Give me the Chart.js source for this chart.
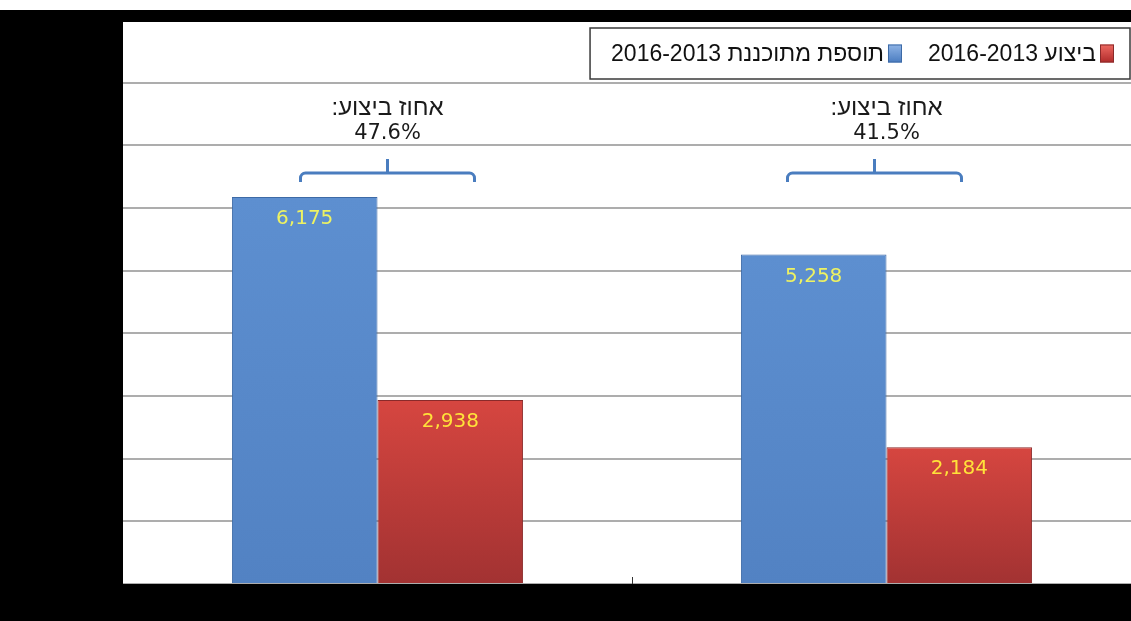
<!DOCTYPE html>
<html lang="he">
<head>
<meta charset="utf-8">
<title>תוספת מתוכננת וביצוע 2016-2013</title>
<script src="https://cdn.jsdelivr.net/npm/chart.js@4.4.1/dist/chart.umd.min.js"></script>
<style>
  html, body { margin: 0; padding: 0; }
  body { width: 1131px; height: 621px; background: #000; overflow: hidden; position: relative; }
  #topStrip { position: absolute; left: 0; top: 0; width: 1131px; height: 10px; background: #fff; }
  #frameTop { position: absolute; left: 0; top: 10px; width: 1131px; height: 12px; background: #000; z-index: 2; }
  #wrap { position: absolute; left: 123px; top: 20px; width: 1018px; height: 564px; background: #fff; }
</style>
</head>
<body>
<div id="topStrip"></div>
<div id="wrap"><canvas id="myChart"></canvas></div>
<div id="frameTop"></div>
<script>
// נתונים
const categories = ['', ''];
const seriesLabels = ['תוספת מתוכננת 2016-2013', 'ביצוע 2016-2013'];
const plannedAddition = [6175, 5258];
const executed = [2938, 2184];
const yMax = 9000;
const yStep = 1000;
const pctTitle = 'אחוז ביצוע:';

const NUM_FONT = "'DejaVu Sans', Tahoma, sans-serif";
const HEB_FONT = "'Liberation Sans', Arial, sans-serif";

// gradient per bar, from its top down to the zero line
function barFill(top, bottom) {
  return (c) => {
    const chart = c.chart;
    const y = chart.scales && chart.scales.y;
    if (!y || c.raw == null) return top;
    const y0 = y.getPixelForValue(0);
    const y1 = y.getPixelForValue(c.raw);
    if (!isFinite(y0) || !isFinite(y1) || y0 === y1) return top;
    const g = chart.ctx.createLinearGradient(0, y1, 0, y0);
    g.addColorStop(0, top);
    g.addColorStop(1, bottom);
    return g;
  };
}

// value written inside the top of each bar
const valueLabels = {
  id: 'valueLabels',
  afterDatasetsDraw(chart, args, opts) {
    const ctx = chart.ctx;
    ctx.save();
    ctx.font = '20px ' + NUM_FONT;
    ctx.textAlign = 'center';
    ctx.textBaseline = 'middle';
    chart.data.datasets.forEach((ds, di) => {
      chart.getDatasetMeta(di).data.forEach((bar, i) => {
        ctx.fillStyle = opts.colors[di];
        ctx.fillText(ds.data[i].toLocaleString('en-US'), bar.x, bar.y + 22);
      });
    });
    ctx.restore();
  }
};

// bracket over each pair with the execution rate
const rateBrackets = {
  id: 'rateBrackets',
  afterDatasetsDraw(chart, args, opts) {
    const ctx = chart.ctx;
    const x = chart.scales.x;
    const top = chart.chartArea.top;
    ctx.save();
    categories.forEach((c, i) => {
      const cx = x.getPixelForValue(i) + opts.braceShift[i];
      const l = cx - 87, r = cx + 87;
      const hy = top + 153, bot = top + 162, stub = top + 139;
      ctx.strokeStyle = '#4a7dbf';
      ctx.lineWidth = 3;
      ctx.beginPath();
      ctx.moveTo(l, bot);
      ctx.arcTo(l, hy, l + 8, hy, 5);
      ctx.lineTo(r - 8, hy);
      ctx.arcTo(r, hy, r, bot, 5);
      ctx.lineTo(r, bot);
      ctx.moveTo(cx, hy);
      ctx.lineTo(cx, stub);
      ctx.stroke();

      const tx = x.getPixelForValue(i) + opts.textShift[i];
      const pct = (executed[i] / plannedAddition[i] * 100).toFixed(1) + '%';
      ctx.fillStyle = '#1a1a1a';
      ctx.textAlign = 'center';
      ctx.textBaseline = 'middle';
      ctx.font = '24px ' + HEB_FONT;
      ctx.direction = 'rtl';
      ctx.fillText(pctTitle, tx, top + 88);
      ctx.font = '21px ' + NUM_FONT;
      ctx.direction = 'ltr';
      ctx.fillText(pct, tx, top + 114);
    });

    // small tick between the two groups, on the baseline
    const bx = (x.getPixelForValue(0) + x.getPixelForValue(1)) / 2;
    const base = chart.scales.y.getPixelForValue(0);
    ctx.strokeStyle = '#333';
    ctx.lineWidth = 1;
    ctx.beginPath();
    ctx.moveTo(Math.round(bx) + 0.5, base - 7);
    ctx.lineTo(Math.round(bx) + 0.5, base);
    ctx.stroke();
    ctx.restore();
  }
};

// framed legend, right to left, drawn over the plot
const boxLegend = {
  id: 'boxLegend',
  afterDraw(chart, args, opts) {
    const ctx = chart.ctx;
    const ds = chart.data.datasets;
    ctx.save();
    ctx.font = '23px ' + HEB_FONT;
    const sw = 14, sh = 18, gap = 4, itemGap = 26, padL = 21, padR = 16;
    const items = ds.slice().reverse();
    let w = padL + padR;
    items.forEach((d, k) => {
      w += sw + gap + ctx.measureText(d.label).width + (k ? itemGap : 0);
    });
    const right = opts.right, top = opts.top, h = 51;
    const left = right - w;
    ctx.fillStyle = '#fff';
    ctx.fillRect(left, top, w, h);
    ctx.strokeStyle = '#3a3a3a';
    ctx.lineWidth = 1.5;
    ctx.strokeRect(left, top, w, h);

    let xr = right - padR;
    const cy = top + h / 2;
    items.forEach((d) => {
      const g = ctx.createLinearGradient(0, cy - sh / 2, 0, cy + sh / 2);
      g.addColorStop(0, d.swatch[0]);
      g.addColorStop(1, d.swatch[1]);
      ctx.fillStyle = g;
      ctx.fillRect(xr - sw, cy - sh / 2, sw, sh);
      ctx.strokeStyle = d.borderColor;
      ctx.lineWidth = 1;
      ctx.strokeRect(xr - sw + 0.5, cy - sh / 2 + 0.5, sw - 1, sh - 1);
      xr -= sw + gap;
      ctx.fillStyle = '#111';
      ctx.textAlign = 'right';
      ctx.textBaseline = 'middle';
      ctx.direction = 'rtl';
      ctx.fillText(d.label, xr, cy + 1);
      xr -= ctx.measureText(d.label).width + itemGap;
    });
    ctx.restore();
  }
};

const ctx = document.getElementById('myChart');

new Chart(ctx, {
  type: 'bar',
  data: {
    labels: categories,
    datasets: [{
      label: seriesLabels[0],
      data: plannedAddition,
      backgroundColor: barFill('#5d8fd0', '#5282c3'),
      borderColor: '#3d6aa6',
      borderWidth: 1,
      swatch: ['#8fb4e6', '#4a7cc0']
    }, {
      label: seriesLabels[1],
      data: executed,
      backgroundColor: barFill('#d64640', '#a23232'),
      borderColor: '#8a2a2a',
      borderWidth: 1,
      swatch: ['#ee6a62', '#b02a2a']
    }]
  },
  options: {
    responsive: true,
    maintainAspectRatio: false,
    animation: false,
    layout: { padding: 0 },
    datasets: {
      bar: { categoryPercentage: 0.572, barPercentage: 1.0 }
    },
    scales: {
      x: {
        display: false
      },
      y: {
        min: 0,
        max: yMax,
        ticks: { display: false, stepSize: yStep },
        grid: { color: '#adadad', lineWidth: 2, drawTicks: false },
        border: { display: false }
      }
    },
    plugins: {
      legend: { display: false },
      tooltip: { enabled: false },
      valueLabels: { colors: ['#eef262', '#ffe23a'] },
      rateBrackets: { braceShift: [10, -12], textShift: [10, 0] },
      boxLegend: { right: 1007, top: 8 }
    }
  },
  plugins: [valueLabels, rateBrackets, boxLegend]
});
</script>
</body>
</html>
